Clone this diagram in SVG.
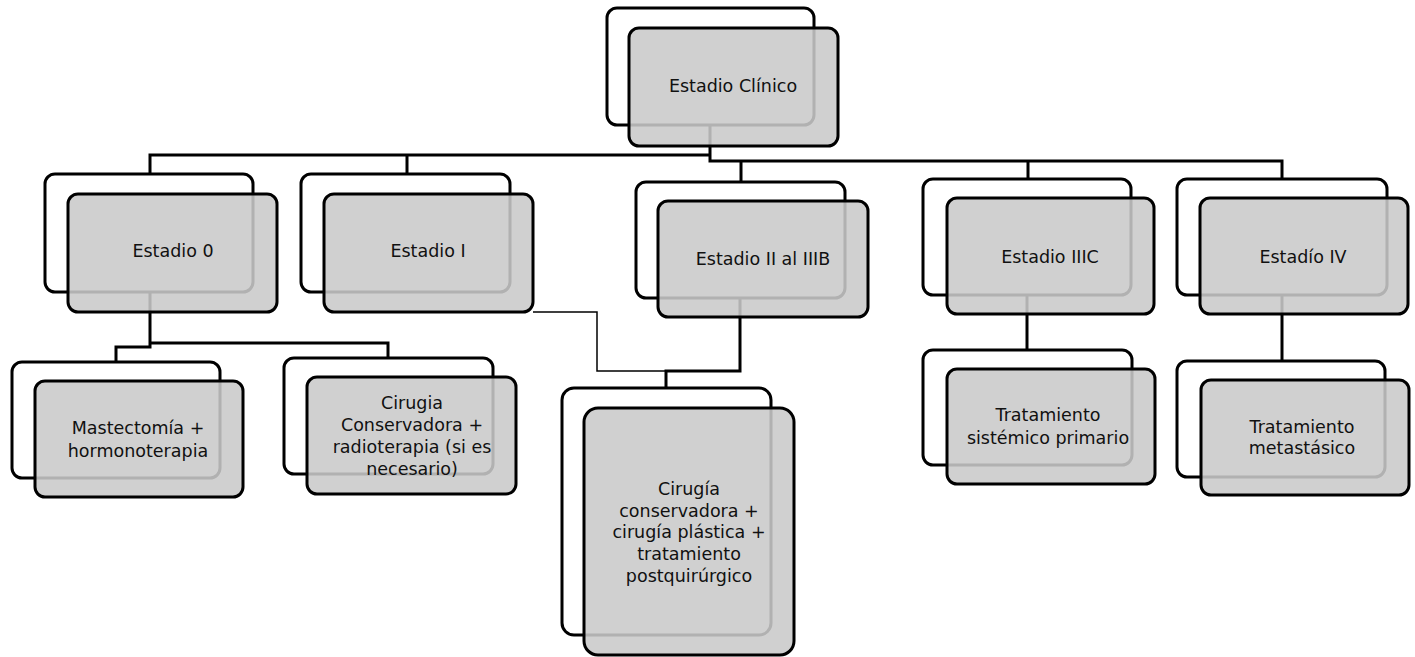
<svg xmlns="http://www.w3.org/2000/svg" width="1415" height="657" viewBox="0 0 1415 657">
<style>
.bg{fill:#fff;stroke:#000;stroke-width:3}
.fg{fill:#cacaca;fill-opacity:0.88;stroke:#000;stroke-width:3}
.c{fill:none;stroke:#000;stroke-width:3}
.t{fill:none;stroke:#000;stroke-width:1.5}
text{font-family:"DejaVu Sans",sans-serif;font-size:17.5px;fill:#111;text-anchor:middle}
</style>
<rect width="1415" height="657" fill="#fff"/>
<g id="connectors">
<path class="c" d="M710,125 V155 H150 V174 M407,155 V174 M710,155 V161 H1282 V179 M741,161 V182 M1028,161 V179"/>
<path class="c" d="M150,292 V347 H116 V362 M150,343 H388 V358"/>
<path class="t" d="M533,312 H597 V371 H690"/>
<path class="c" d="M740,298 V371 H666 V388"/>
<path class="c" d="M1027,295 V350"/>
<path class="c" d="M1282,295 V361"/>
</g>
<g id="n-clinico">
<rect class="bg" x="607" y="8" width="207" height="117" rx="10"/>
<rect class="fg" x="629" y="28" width="209" height="118" rx="10"/>
<text x="733" y="92">Estadio Clínico</text>
</g>
<g id="n-e0">
<rect class="bg" x="45" y="174" width="208" height="118" rx="10"/>
<rect class="fg" x="68" y="194" width="209" height="118" rx="10"/>
<text x="173" y="257">Estadio 0</text>
</g>
<g id="n-e1">
<rect class="bg" x="301" y="174" width="209" height="118" rx="10"/>
<rect class="fg" x="324" y="194" width="209" height="118" rx="10"/>
<text x="428" y="257">Estadio I</text>
</g>
<g id="n-e2">
<rect class="bg" x="636" y="182" width="209" height="116" rx="10"/>
<rect class="fg" x="658" y="201" width="210" height="116" rx="10"/>
<text x="763" y="265">Estadio II al IIIB</text>
</g>
<g id="n-e3c">
<rect class="bg" x="923" y="179" width="208" height="116" rx="10"/>
<rect class="fg" x="947" y="198" width="207" height="116" rx="10"/>
<text x="1050" y="263">Estadio IIIC</text>
</g>
<g id="n-e4">
<rect class="bg" x="1177" y="179" width="210" height="116" rx="10"/>
<rect class="fg" x="1200" y="198" width="208" height="116" rx="10"/>
<text x="1303" y="263">Estadío IV</text>
</g>
<g id="n-mast">
<rect class="bg" x="12" y="362" width="208" height="116" rx="10"/>
<rect class="fg" x="35" y="381" width="208" height="116" rx="10"/>
<text x="138" y="434">Mastectomía +</text>
<text x="138" y="457">hormonoterapia</text>
</g>
<g id="n-cirugia">
<rect class="bg" x="284" y="358" width="209" height="116" rx="10"/>
<rect class="fg" x="307" y="377" width="209" height="117" rx="10"/>
<text x="412" y="409">Cirugia</text>
<text x="412" y="431">Conservadora +</text>
<text x="412" y="453">radioterapia (si es</text>
<text x="412" y="475">necesario)</text>
</g>
<g id="n-conserv">
<rect class="bg" x="562" y="388" width="209" height="247" rx="12"/>
<rect class="fg" x="584" y="408" width="210" height="247" rx="14"/>
<text x="689" y="495">Cirugía</text>
<text x="689" y="517">conservadora +</text>
<text x="689" y="538">cirugía plástica +</text>
<text x="689" y="560">tratamiento</text>
<text x="689" y="582">postquirúrgico</text>
</g>
<g id="n-sist">
<rect class="bg" x="923" y="350" width="209" height="115" rx="10"/>
<rect class="fg" x="947" y="369" width="208" height="115" rx="10"/>
<text x="1048" y="421">Tratamiento</text>
<text x="1048" y="444">sistémico primario</text>
</g>
<g id="n-meta">
<rect class="bg" x="1177" y="361" width="208" height="116" rx="10"/>
<rect class="fg" x="1201" y="380" width="208" height="115" rx="10"/>
<text x="1302" y="433">Tratamiento</text>
<text x="1302" y="454">metastásico</text>
</g>
</svg>
